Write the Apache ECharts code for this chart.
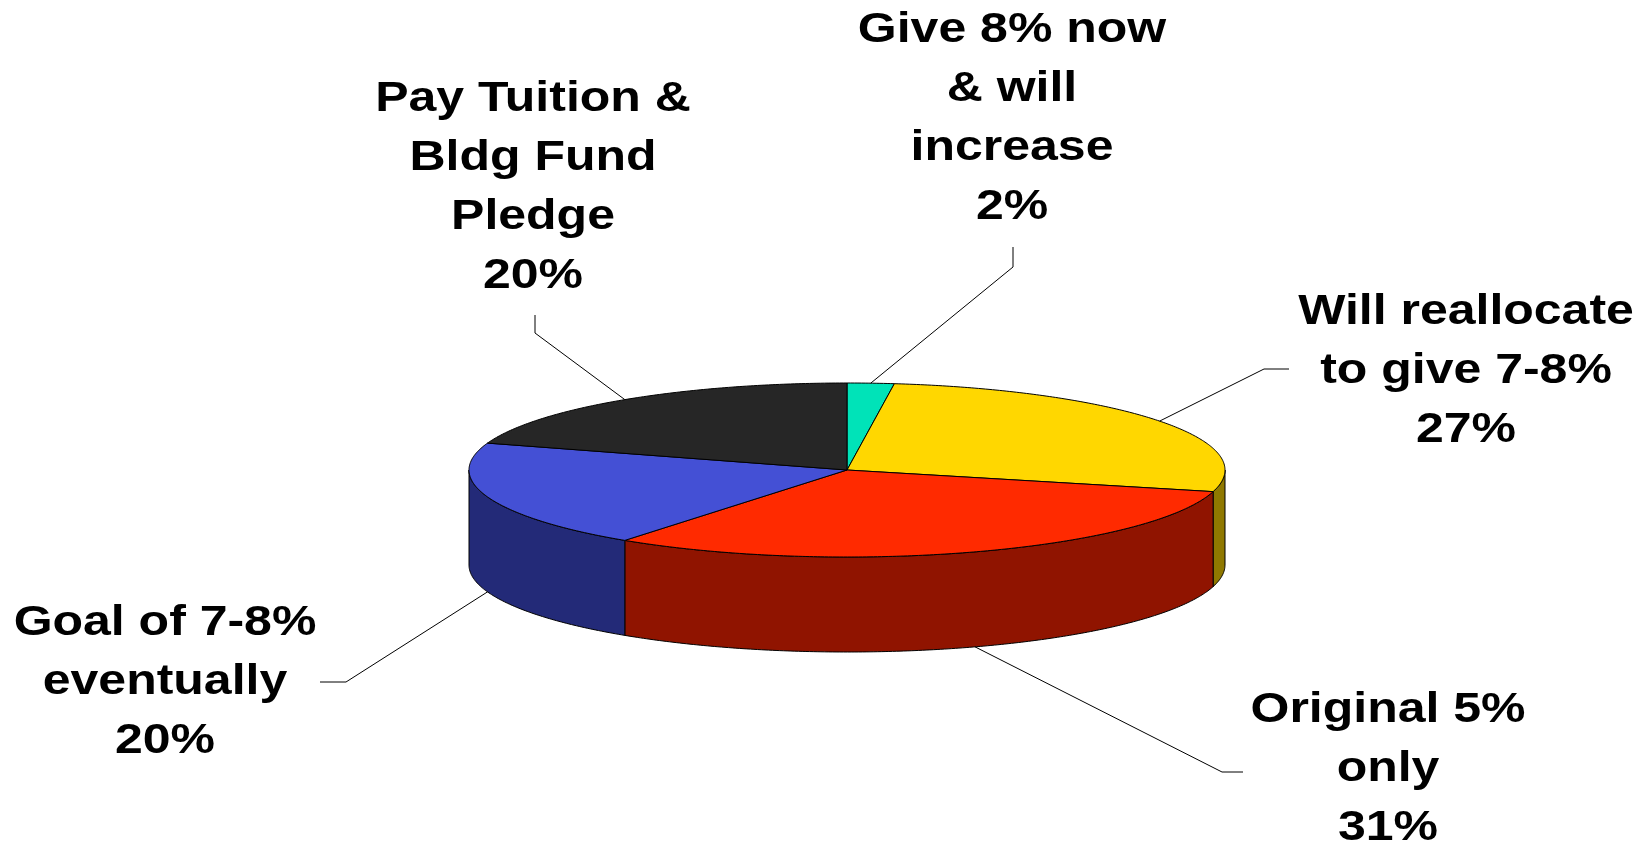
<!DOCTYPE html>
<html>
<head>
<meta charset="utf-8">
<script src="https://cdn.jsdelivr.net/npm/echarts@6/dist/echarts.min.js"></script>
<style>
	html, body {margin:0; padding:0; background:#fff;}
	#chart {width:1650px; height:845px;}
</style>
</head>
<body>
<div id="chart"></div>
<script>
'use strict';
(function(){
	// data, clockwise from 12 o'clock
	var names = [
		'Give 8% now\n& will\nincrease',
		'Will reallocate\nto give 7-8%',
		'Original 5%\nonly',
		'Goal of 7-8%\neventually',
		'Pay Tuition &\nBldg Fund\nPledge'
	];
	var values = [2, 27, 31, 20, 20];

	// styles
	var topColors = ['#00E3B8', '#FFD700', '#FF2A00', '#4450D5', '#262626'];
	var sideColors = ['#00806A', '#8F7800', '#901400', '#232A78', '#141414'];

	// layout: label centres and leader bends/ends
	var labelPos = [[1012, 119], [1466, 371], [1388, 769], [165, 682], [533, 188]];
	var leaderBend = [[1013, 267], [1264, 369], [1222, 772], [346, 682], [535, 333]];
	var leaderEnd = [[1013, 247], [1289, 369], [1243, 772], [320, 682], [535, 315]];

	var Pie = {cx: 847, cy: 470, rx: 378, ry: 87, depth: 95};

	var total = values.reduce(function(a, b){ return a + b; }, 0);
	var starts = [], acc = 0;
	values.forEach(function(v){ starts.push(acc / total * Math.PI * 2); acc += v; });

	function pt(a, dy){
		return [Pie.cx + Pie.rx * Math.sin(a), Pie.cy - Pie.ry * Math.cos(a) + (dy || 0)];
	}
	function arc(a0, a1, dy){
		var n = Math.max(2, Math.ceil((a1 - a0) / 0.01)), out = [];
		for (var k = 0; k <= n; k++) out.push(pt(a0 + (a1 - a0) * k / n, dy));
		return out;
	}

	function renderWall(params, api){
		var i = params.dataIndex;
		var a0 = Math.max(starts[i], Math.PI / 2);
		var a1 = Math.min(starts[i] + api.value(1) / total * Math.PI * 2, Math.PI * 1.5);
		if (a1 <= a0) return {type: 'group', children: []};
		var pts = arc(a0, a1, 0).concat(arc(a0, a1, Pie.depth).reverse());
		return {
			type: 'polygon',
			shape: {points: pts},
			style: {fill: sideColors[i], stroke: '#000', lineWidth: 1}
		};
	}

	function renderTop(params, api){
		var i = params.dataIndex;
		var v = api.value(1);
		var a0 = starts[i], a1 = a0 + v / total * Math.PI * 2;
		var mid = (a0 + a1) / 2;
		var front = mid > Math.PI / 2 && mid < Math.PI * 1.5;
		var p0 = pt(mid, front ? Pie.depth : 0);
		return {
			type: 'group',
			children: [{
				type: 'polygon',
				shape: {points: [[Pie.cx, Pie.cy]].concat(arc(a0, a1, 0))},
				style: {fill: topColors[i], stroke: '#000', lineWidth: 1}
			}, {
				type: 'polyline',
				shape: {points: [p0, leaderBend[i], leaderEnd[i]]},
				style: {stroke: '#000', lineWidth: 1, fill: null}
			}, {
				type: 'text',
				x: labelPos[i][0],
				y: labelPos[i][1],
				scaleX: 1.19,
				style: {
					text: names[i] + '\n' + v + '%',
					fill: '#000',
					fontFamily: '"Liberation Sans", Arial, sans-serif',
					fontWeight: 'bold',
					fontSize: 42,
					lineHeight: 59,
					align: 'center',
					verticalAlign: 'middle'
				}
			}]
		};
	}

	var seriesData = values.map(function(v, i){ return [i, v]; });

	var chart = echarts.init(document.getElementById('chart'));
	chart.setOption({
		animation: false,
		backgroundColor: '#fff',
		series: [{
			type: 'custom',
			coordinateSystem: 'none',
			z: 1,
			renderItem: renderWall,
			data: seriesData
		}, {
			type: 'custom',
			coordinateSystem: 'none',
			z: 2,
			renderItem: renderTop,
			data: seriesData
		}]
	});
}.call(this));
</script>
</body>
</html>
